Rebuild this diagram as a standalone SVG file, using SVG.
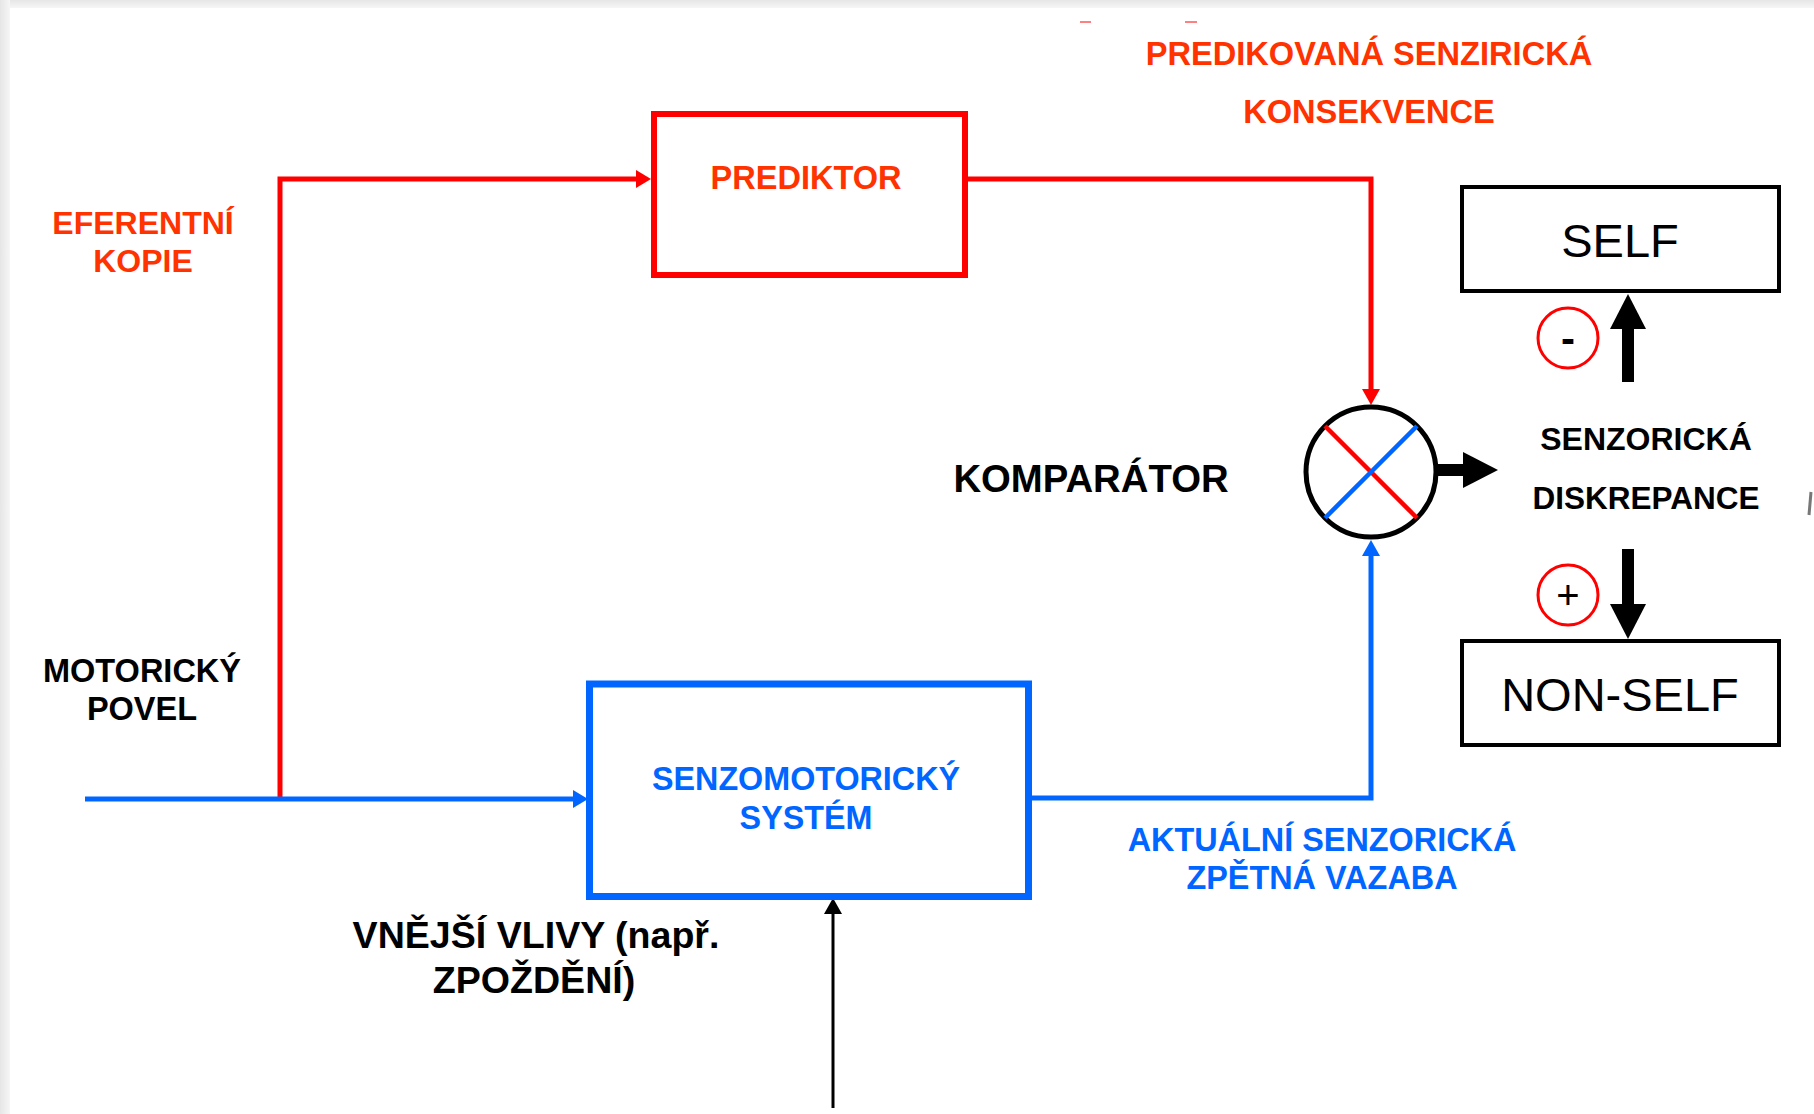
<svg xmlns="http://www.w3.org/2000/svg" width="1814" height="1114" viewBox="0 0 1814 1114">
<defs>
<style>
.t{font-family:"Liberation Sans",Arial,sans-serif;font-weight:bold;text-anchor:middle}
.red{fill:#ff3300}
.blue{fill:#0066ff}
.blk{fill:#000}
.reg{font-family:"Liberation Sans",Arial,sans-serif;font-weight:normal;text-anchor:middle;fill:#000}
.rl{stroke:#ff0000;stroke-width:5;fill:none}
.bl{stroke:#0066ff;stroke-width:5;fill:none}
</style>
<linearGradient id="gt" x1="0" y1="0" x2="0" y2="1"><stop offset="0" stop-color="#e6e6e6"/><stop offset="1" stop-color="#f6f6f6"/></linearGradient>
<linearGradient id="gl" x1="0" y1="0" x2="1" y2="0"><stop offset="0" stop-color="#e6e6e6"/><stop offset="1" stop-color="#f6f6f6"/></linearGradient>
</defs>
<rect x="0" y="0" width="1814" height="1114" fill="#fff"/>
<rect x="0" y="0" width="1814" height="8" fill="url(#gt)"/>
<rect x="0" y="0" width="10" height="1114" fill="url(#gl)"/>
<g id="artifacts">
<line x1="1080" y1="22" x2="1091" y2="22" stroke="#ff8080" stroke-width="2"/>
<line x1="1185" y1="22" x2="1197" y2="22" stroke="#ff8080" stroke-width="2"/>
<line x1="1811" y1="492" x2="1809" y2="515" stroke="#777" stroke-width="3"/>
</g>

<g id="connectors">
<!-- efferent copy -->
<polyline class="rl" points="280,799 280,179 637,179"/>
<polygon points="651,179 636,170 636,188" fill="#ff0000"/>
<!-- predicted consequence -->
<polyline class="rl" points="966,179 1371,179 1371,390"/>
<polygon points="1371,405 1362,389 1380,389" fill="#ff0000"/>
<!-- motor command -->
<line class="bl" x1="85" y1="799" x2="574" y2="799"/>
<polygon points="588,799 573,790 573,808" fill="#0066ff"/>
<!-- actual feedback -->
<polyline class="bl" points="1032,798 1371,798 1371,555"/>
<polygon points="1371,540 1362,556 1380,556" fill="#0066ff"/>
<!-- external influences -->
<line x1="833" y1="1108" x2="833" y2="912" stroke="#000" stroke-width="3"/>
<polygon points="833,898 824,914 842,914" fill="#000"/>
<!-- discrepancy arrow -->
<rect x="1423" y="464" width="41" height="12" fill="#000"/>
<polygon points="1498,470 1463,452 1463,488" fill="#000"/>
<!-- up to SELF -->
<rect x="1622" y="326" width="12" height="56" fill="#000"/>
<polygon points="1628,294 1610,329 1646,329" fill="#000"/>
<!-- down to NON-SELF -->
<rect x="1622" y="549" width="12" height="58" fill="#000"/>
<polygon points="1628,639 1610,604 1646,604" fill="#000"/>
</g>

<g id="prediktor">
<rect x="654" y="114" width="311" height="161" fill="none" stroke="#ff0000" stroke-width="6"/>
<text class="t red" x="806" y="189" font-size="32.5">PREDIKTOR</text>
</g>

<g id="senzomotoricky">
<rect x="589.5" y="684" width="439" height="212.5" fill="none" stroke="#0066ff" stroke-width="7"/>
<text class="t blue" x="806" y="790" font-size="32.3">SENZOMOTORICKÝ</text>
<text class="t blue" x="806" y="829" font-size="32.3">SYSTÉM</text>
</g>

<g id="komparator">
<circle cx="1371" cy="472" r="65" fill="#fff" stroke="#000" stroke-width="5"/>
<line x1="1325" y1="426" x2="1417" y2="518" stroke="#ff0000" stroke-width="4.5"/>
<line x1="1325" y1="518" x2="1417" y2="426" stroke="#0066ff" stroke-width="4.5"/>
</g>

<g id="self">
<rect x="1462" y="187" width="317" height="104" fill="none" stroke="#000" stroke-width="4"/>
<text class="reg" x="1620" y="257" font-size="47">SELF</text>
</g>

<g id="nonself">
<rect x="1462" y="641" width="317" height="104" fill="none" stroke="#000" stroke-width="4"/>
<text class="reg" x="1620" y="711" font-size="47">NON-SELF</text>
</g>

<g id="minus">
<circle cx="1568" cy="338" r="30" fill="none" stroke="#ff0000" stroke-width="3"/>
<text class="t blk" x="1568" y="353" font-size="42">-</text>
</g>

<g id="plus">
<circle cx="1568" cy="595" r="30" fill="none" stroke="#ff0000" stroke-width="3"/>
<text class="reg" x="1568" y="609" font-size="40">+</text>
</g>

<g id="labels">
<text class="t red" x="1369" y="65" font-size="32.6">PREDIKOVANÁ SENZIRICKÁ</text>
<text class="t red" x="1369" y="123" font-size="32.6">KONSEKVENCE</text>
<text class="t red" x="143" y="234" font-size="32">EFERENTNÍ</text>
<text class="t red" x="143" y="272" font-size="32">KOPIE</text>
<text class="t blk" x="142" y="682" font-size="32.5">MOTORICKÝ</text>
<text class="t blk" x="142" y="720" font-size="32.5">POVEL</text>
<text class="t blk" x="1091" y="492" font-size="38.3">KOMPARÁTOR</text>
<text class="t blk" x="1646" y="450" font-size="32">SENZORICKÁ</text>
<text class="t blk" x="1646" y="509" font-size="31.5">DISKREPANCE</text>
<text class="t blue" x="1322" y="851" font-size="32.4">AKTUÁLNÍ SENZORICKÁ</text>
<text class="t blue" x="1322" y="889" font-size="32.4">ZPĚTNÁ VAZABA</text>
<text class="t blk" x="536" y="948" font-size="37.6">VNĚJŠÍ VLIVY (např.</text>
<text class="t blk" x="534" y="993" font-size="37.6">ZPOŽDĚNÍ)</text>
</g>
</svg>
